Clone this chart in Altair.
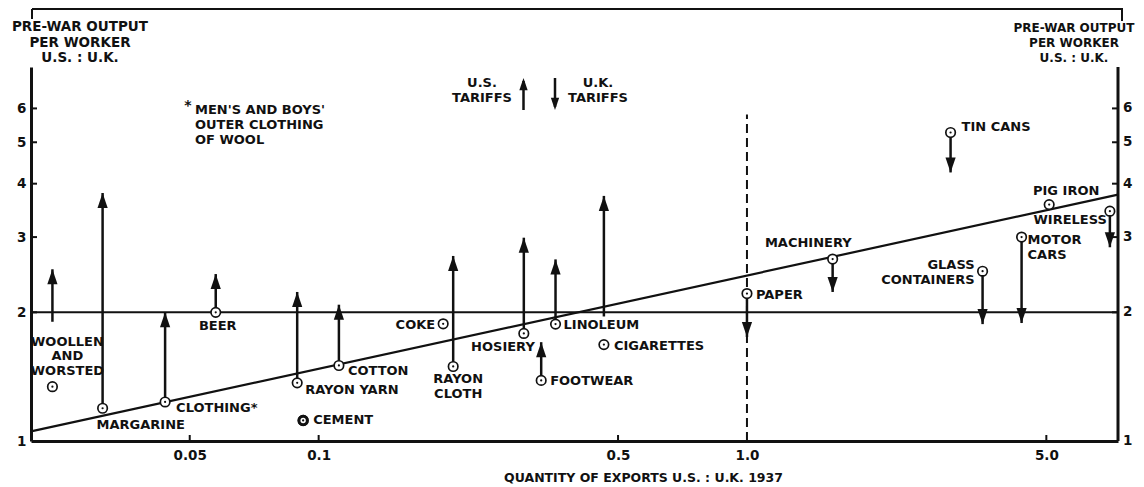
import altair as alt
import numpy as np
import pandas as pd

# ---------------- data ----------------
products = ["WOOLLEN\nAND\nWORSTED", "MARGARINE", "CLOTHING*", "BEER", "RAYON YARN",
            "CEMENT", "COTTON", "COKE", "RAYON\nCLOTH", "HOSIERY", "FOOTWEAR",
            "LINOLEUM", "CIGARETTES", "PAPER", "MACHINERY", "GLASS\nCONTAINERS",
            "MOTOR\nCARS", "PIG IRON", "WIRELESS", "TIN CANS"]
export_ratio = [0.0239, 0.0313, 0.0438, 0.0575, 0.0891,
                0.0920, 0.1115, 0.1953, 0.2061, 0.3013, 0.3308,
                0.3573, 0.4634, 1.0, 1.585, 3.549,
                4.377, 5.077, 7.036, 2.988]
output_ratio = [1.340, 1.193, 1.234, 2.0, 1.368,
                1.117, 1.502, 1.880, 1.494, 1.785, 1.386,
                1.877, 1.681, 2.213, 2.665, 2.496,
                3.0, 3.574, 3.449, 5.27]
arrow_start = [1.901, 1.193, 1.234, 2.0, 1.368,
               None, 1.502, None, 1.494, 1.785, 1.386,
               1.877, 1.956, 2.213, 2.665, 2.496,
               3.0, None, 3.449, 5.27]
arrow_end = [2.522, 3.804, 2.0, 2.458, 2.232,
             None, 2.084, None, 2.71, 2.99, 1.703,
             2.66, 3.745, 1.751, 2.232, 1.877,
             1.888, None, 2.84, 4.25]
trend_export = [0.0213, 7.35]
trend_output = [1.053, 3.77]
parity_output = [2.0]
paper_line_export = [1.0]
paper_line_output = [1.0, 5.81]
y_ticks = [1, 2, 3, 4, 5, 6]
x_ticks = [0.05, 0.1, 0.5, 1.0, 5.0]
bold_points = ["CEMENT"]

# ---------------- styling / layout ----------------
W, H = 1087, 374
FONT = "DejaVu Sans"
INK = "#111111"
FS = 13

# label placement (align, dx, dy of the first line) relative to each point
LABEL_LAYOUT = {
    "WOOLLEN\nAND\nWORSTED": ("center", 15, -45),
    "MARGARINE": ("left", -6, 17),
    "CLOTHING*": ("left", 11, 6),
    "BEER": ("center", 2, 14),
    "RAYON YARN": ("left", 8, 7),
    "CEMENT": ("left", 10, 0),
    "COTTON": ("left", 9, 6),
    "COKE": ("right", -8, 1),
    "RAYON\nCLOTH": ("center", 5, 13),
    "HOSIERY": ("right", 11, 14),
    "FOOTWEAR": ("left", 9, 1),
    "LINOLEUM": ("left", 8, 1),
    "CIGARETTES": ("left", 10, 1),
    "PAPER": ("left", 9, 1),
    "MACHINERY": ("right", 19, -16),
    "GLASS\nCONTAINERS": ("right", -8, -6),
    "MOTOR\nCARS": ("left", 6, 3),
    "PIG IRON": ("center", 17, -14),
    "WIRELESS": ("right", -3, 9),
    "TIN CANS": ("left", 11, -5),
}

UP = "M0,0L-0.34,1L0.34,1Z"
DOWN = "M0,0L-0.34,-1L0.34,-1Z"

xscale = alt.Scale(type="log", domain=[0.0213, 7.35], nice=False)
yscale = alt.Scale(type="log", domain=[1, 7.5], nice=False)

xaxis = alt.Axis(
    values=x_ticks,
    labelExpr="datum.value >= 1 ? format(datum.value, '.1f') : format(datum.value, '~g')",
    ticks=False, grid=False, domainWidth=3, domainColor=INK,
    labelPadding=7, labelFont=FONT, labelFontSize=13.5, labelFontWeight="bold",
    labelColor=INK, labelFlush=False,
    title="QUANTITY OF EXPORTS U.S. : U.K. 1937",
    titleFont=FONT, titleFontSize=12.5, titleFontWeight="bold", titleColor=INK,
    titleX=612, titleY=36, titleAlign="center", titleBaseline="middle", titleAnchor="start",
)
yaxis = alt.Axis(
    values=y_ticks, format="d",
    ticks=False, grid=False, domainWidth=3, domainColor=INK,
    labelPadding=5, labelFont=FONT, labelFontSize=13.5, labelFontWeight="bold",
    labelColor=INK, labelFlush=False, title=None,
)


def X(f):
    return alt.X(f, type="quantitative", scale=xscale, axis=xaxis)


def Y(f):
    return alt.Y(f, type="quantitative", scale=yscale, axis=yaxis)


pts = pd.DataFrame({"product": products, "exports": export_ratio, "output": output_ratio})
arr = pd.DataFrame({"product": products, "exports": export_ratio,
                    "start": arrow_start, "end": arrow_end}).dropna()
arr["dir"] = np.where(arr["end"] > arr["start"], "up", "down")

one = pd.DataFrame({"a": [0]})

layers = []

# parity line at 2
layers.append(alt.Chart(pd.DataFrame({"v": parity_output})).mark_rule(
    color=INK, strokeWidth=2).encode(y=Y("v")))

# trend line
layers.append(alt.Chart(pd.DataFrame({"exports": trend_export, "output": trend_output})).mark_line(
    color=INK, strokeWidth=2.2).encode(x=X("exports"), y=Y("output")))

# dashed line at 1.0
layers.append(alt.Chart(pd.DataFrame({"x": paper_line_export, "y1": [paper_line_output[0]],
                                      "y2": [paper_line_output[1]]})).mark_rule(
    color=INK, strokeWidth=2, strokeDash=[9, 5]).encode(x=X("x"), y=Y("y1"), y2="y2"))

# inward ticks
layers.append(alt.Chart(pd.DataFrame({"v": y_ticks[1:]})).mark_rule(color=INK, strokeWidth=2).encode(
    y=Y("v"), x=alt.value(0), x2=alt.value(6)))
layers.append(alt.Chart(pd.DataFrame({"v": y_ticks[1:]})).mark_rule(color=INK, strokeWidth=2).encode(
    y=Y("v"), x=alt.value(W - 6), x2=alt.value(W)))
layers.append(alt.Chart(pd.DataFrame({"v": [0.05, 0.1, 0.5, 5.0]})).mark_rule(color=INK, strokeWidth=2).encode(
    x=X("v"), y=alt.value(H), y2=alt.value(H - 6)))

# right axis line and labels
layers.append(alt.Chart(one).mark_rule(color=INK, strokeWidth=3).encode(
    x=alt.value(W), y=alt.value(0), y2=alt.value(H)))
layers.append(alt.Chart(pd.DataFrame({"v": y_ticks})).mark_text(
    align="left", baseline="middle", font=FONT, fontSize=13.5, fontWeight="bold", color=INK).encode(
    y=Y("v"), x=alt.value(W + 5), text=alt.Text("v:Q", format="d")))

# top frame
layers.append(alt.Chart(one).mark_rule(color=INK, strokeWidth=2).encode(
    x=alt.value(1), x2=alt.value(1092), y=alt.value(-58)))
layers.append(alt.Chart(one).mark_rule(color=INK, strokeWidth=2).encode(
    x=alt.value(1), y=alt.value(-58), y2=alt.value(-48)))
layers.append(alt.Chart(one).mark_rule(color=INK, strokeWidth=2).encode(
    x=alt.value(1091), y=alt.value(-58), y2=alt.value(-46)))

# arrow shafts and heads
layers.append(alt.Chart(arr).mark_rule(color=INK, strokeWidth=2.5).encode(
    x=X("exports"), y=Y("start"), y2="end"))
layers.append(alt.Chart(arr).mark_point(filled=True, size=900, opacity=1, color=INK, strokeWidth=0).encode(
    x=X("exports"), y=Y("end"),
    shape=alt.Shape("dir:N", scale=alt.Scale(domain=["up", "down"], range=[UP, DOWN]), legend=None)))

# circles with dots
layers.append(alt.Chart(pts).mark_point(shape="circle", size=90, fill="white", fillOpacity=1,
                                        stroke=INK, strokeWidth=1.7, opacity=1).encode(
    x=X("exports"), y=Y("output")))
layers.append(alt.Chart(pts[pts["product"].isin(bold_points)]).mark_point(
    shape="circle", size=70, filled=False, stroke=INK, strokeWidth=3, opacity=1).encode(
    x=X("exports"), y=Y("output")))
layers.append(alt.Chart(pts).mark_point(shape="circle", size=5, filled=True, color=INK, opacity=1).encode(
    x=X("exports"), y=Y("output")))

# point labels
for name, (align, dx, dy) in LABEL_LAYOUT.items():
    sub = pts[pts["product"] == name]
    layers.append(alt.Chart(sub).mark_text(
        align=align, baseline="middle", dx=dx, dy=dy, lineBreak="\n", lineHeight=14.5,
        font=FONT, fontSize=FS, fontWeight="bold", color=INK).encode(
        x=X("exports"), y=Y("output"), text="product:N"))


def note(text, x, y, align="center", size=FS, lh=15.5):
    # y is the position of the first line
    return alt.Chart(pd.DataFrame({"t": [text]})).mark_text(
        align=align, baseline="middle", lineBreak="\n", lineHeight=lh,
        font=FONT, fontSize=size, fontWeight="bold", color=INK).encode(
        x=alt.value(x), y=alt.value(y), text="t:N")


# headers
layers.append(note("PRE-WAR OUTPUT\nPER WORKER\nU.S. : U.K.", 49, -40, size=13.5))
layers.append(note("PRE-WAR OUTPUT\nPER WORKER\nU.S. : U.K.", 1043, -39, size=12, lh=15))

# tariff legend
layers.append(note("U.S.\nTARIFFS", 451, 16, lh=15))
layers.append(note("U.K.\nTARIFFS", 567, 16, lh=15))
layers.append(alt.Chart(one).mark_rule(color=INK, strokeWidth=2.5).encode(
    x=alt.value(492.5), y=alt.value(43), y2=alt.value(14)))
layers.append(alt.Chart(one).mark_point(shape=UP, filled=True, size=600, opacity=1, color=INK, strokeWidth=0).encode(
    x=alt.value(492.5), y=alt.value(11)))
layers.append(alt.Chart(one).mark_rule(color=INK, strokeWidth=2.5).encode(
    x=alt.value(524), y=alt.value(11), y2=alt.value(40)))
layers.append(alt.Chart(one).mark_point(shape=DOWN, filled=True, size=600, opacity=1, color=INK, strokeWidth=0).encode(
    x=alt.value(524), y=alt.value(43)))

# footnote
layers.append(note("*", 157, 39, size=14))
layers.append(note("MEN'S AND BOYS'\nOUTER CLOTHING\nOF WOOL", 164, 43, align="left", lh=15))

chart = alt.layer(*layers).properties(
    width=W, height=H,
    padding={"left": 23, "top": 59, "right": 18, "bottom": 45},
    autosize=alt.AutoSizeParams(type="none"),
    background="white",
).configure_view(stroke=None)

chart.save("out.html", embed_options={"renderer": "svg", "actions": False})
